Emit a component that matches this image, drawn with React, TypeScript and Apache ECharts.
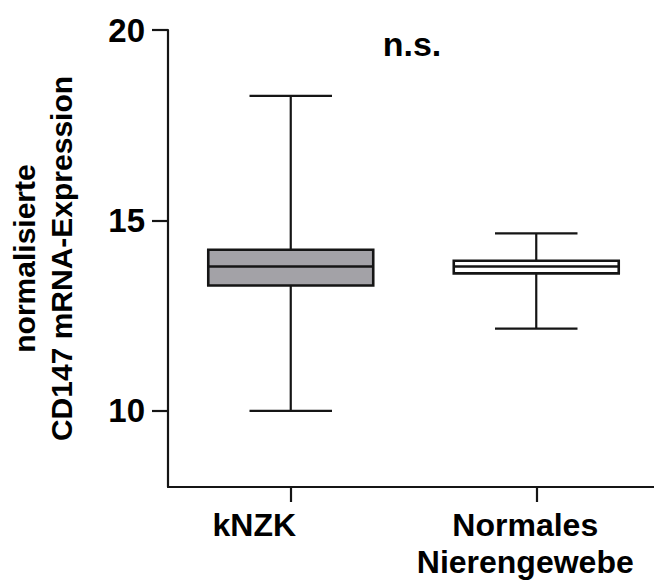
import React, { useEffect, useRef } from "react";
import * as echarts from "echarts";

const categories = ["kNZK", "Normales\nNierengewebe"];
const whiskerLow = [10.0, 12.16];
const q1 = [13.29, 13.61];
const median = [13.79, 13.79];
const q3 = [14.23, 13.94];
const whiskerHigh = [18.27, 14.66];
const yTicks = [10, 15, 20];
const yMin = 8;
const yMax = 20;
const yName = "normalisierte\nCD147 mRNA-Expression";
const annotation = "n.s.";

const boxFills = ["#a3a2a7", "#ffffff"];
const labelShift = [73, 22];
const FONT = "'Liberation Sans', Arial, sans-serif";

export default function App() {
  const ref = useRef<HTMLDivElement>(null);
  useEffect(() => {
    document.body.style.margin = "0";
    document.body.style.overflow = "hidden";
    if (!ref.current) return;
    const chart = echarts.init(ref.current, null, { renderer: "svg" });
    const data = categories.map((_, i) => [i, whiskerLow[i], q1[i], median[i], q3[i], whiskerHigh[i]]);
    const lineColor = "#151515";
    chart.setOption({
      animation: false,
      backgroundColor: "#ffffff",
      grid: { left: 168, top: 30, width: 491, height: 457, containLabel: false, outerBoundsMode: "none" },
      xAxis: {
        type: "category",
        data: categories.map((c, i) => ({ value: c, textStyle: { padding: [0, labelShift[i], 0, 0] } })),
        boundaryGap: true,
        axisLine: { show: true, lineStyle: { color: lineColor, width: 2.2 } },
        axisTick: { show: true, alignWithLabel: true, interval: 0, length: 15, lineStyle: { color: lineColor, width: 2.2 } },
        axisLabel: {
          interval: 0,
          margin: 19,
          color: "#000",
          fontFamily: FONT,
          fontSize: 32,
          fontWeight: "bold",
          lineHeight: 37,
        },
        splitLine: { show: false },
      },
      yAxis: {
        type: "value",
        min: yMin,
        max: yMax,
        name: yName,
        nameLocation: "middle",
        nameRotate: 90,
        nameGap: 88,
        nameTextStyle: { color: "#000", fontFamily: FONT, fontSize: 30, fontWeight: "bold", lineHeight: 37 },
        axisLine: { show: true, lineStyle: { color: lineColor, width: 2.2 } },
        axisTick: { show: true, length: 16, customValues: yTicks, lineStyle: { color: lineColor, width: 2.2 } },
        axisLabel: {
          customValues: yTicks,
          margin: 23,
          color: "#000",
          fontFamily: FONT,
          fontSize: 33,
          fontWeight: "bold",
        },
        splitLine: { show: false },
      },
      graphic: [
        {
          type: "text",
          x: 412,
          y: 44,
          style: {
            text: annotation,
            fill: "#000",
            font: `bold 34px ${FONT}`,
            textAlign: "center",
            textVerticalAlign: "middle",
          },
        },
      ],
      series: [
        {
          type: "custom",
          data,
          encode: { x: 0, y: [1, 2, 3, 4, 5] },
          renderItem: (params: any, api: any) => {
            const idx = api.value(0);
            const lo = api.coord([idx, api.value(1)]);
            const b1 = api.coord([idx, api.value(2)]);
            const med = api.coord([idx, api.value(3)]);
            const b3 = api.coord([idx, api.value(4)]);
            const hi = api.coord([idx, api.value(5)]);
            const band = api.size([1, 0])[0];
            const boxW = band * 0.672;
            const capW = boxW / 2;
            const cx = lo[0];
            const stroke = { stroke: "#151515", lineWidth: 2.2 };
            return {
              type: "group",
              children: [
                { type: "line", shape: { x1: cx, y1: lo[1], x2: cx, y2: b1[1] }, style: stroke },
                { type: "line", shape: { x1: cx, y1: b3[1], x2: cx, y2: hi[1] }, style: stroke },
                { type: "line", shape: { x1: cx - capW / 2, y1: lo[1], x2: cx + capW / 2, y2: lo[1] }, style: stroke },
                { type: "line", shape: { x1: cx - capW / 2, y1: hi[1], x2: cx + capW / 2, y2: hi[1] }, style: stroke },
                {
                  type: "rect",
                  shape: { x: cx - boxW / 2, y: b3[1], width: boxW, height: b1[1] - b3[1] },
                  style: { fill: boxFills[params.dataIndex], stroke: "#151515", lineWidth: 2.6 },
                },
                {
                  type: "line",
                  shape: { x1: cx - boxW / 2, y1: med[1], x2: cx + boxW / 2, y2: med[1] },
                  style: { stroke: "#151515", lineWidth: 2.6 },
                },
              ],
            };
          },
        },
      ],
    });
    return () => chart.dispose();
  }, []);
  return <div ref={ref} style={{ width: 654, height: 580 }} />;
}
